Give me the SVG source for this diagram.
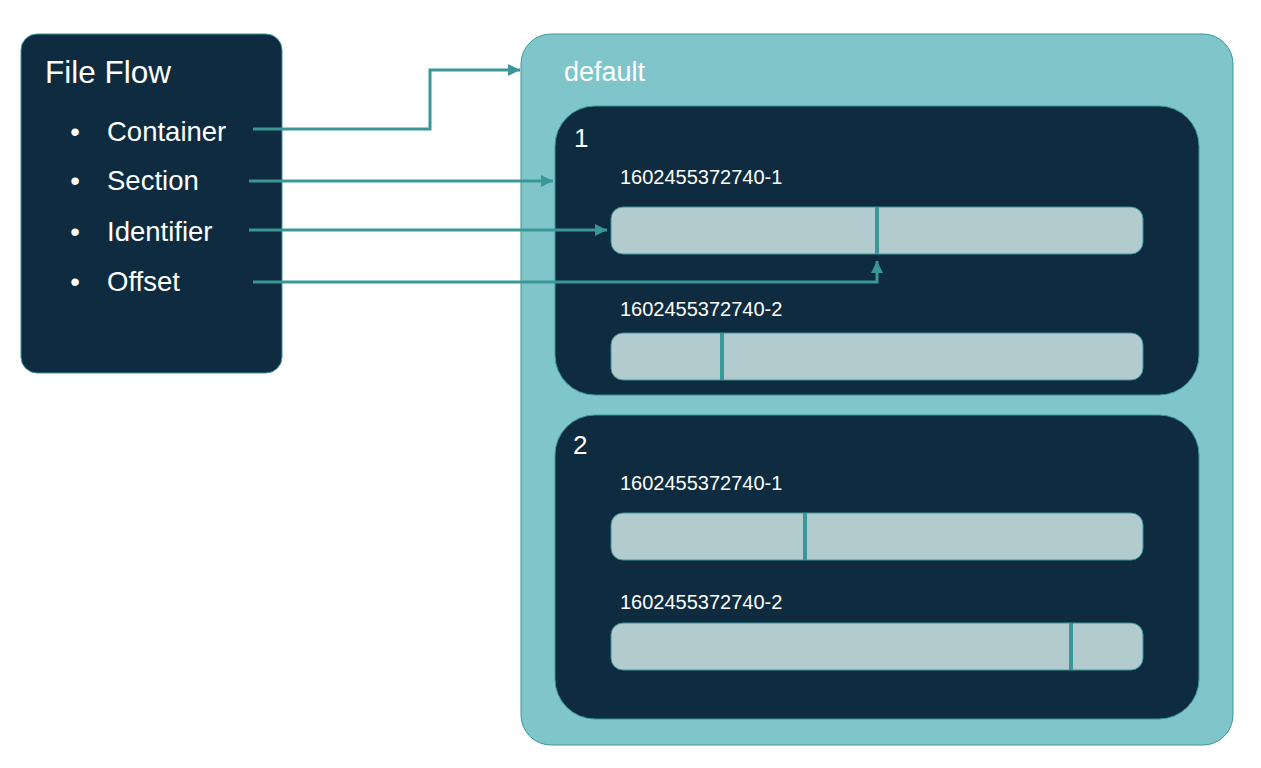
<svg xmlns="http://www.w3.org/2000/svg" width="1261" height="768" viewBox="0 0 1261 768">
<defs>
<marker id="ah" viewBox="0 0 10 10" refX="10" refY="5" markerWidth="4" markerHeight="4" orient="auto" markerUnits="strokeWidth">
<path d="M0,0 L10,5 L0,10 Z" fill="#3a9797"/>
</marker>
<style>
.dark{fill:#0e2b40;stroke:#3a9797;stroke-width:1}
.bar{fill:#b1cbcf;stroke:#3a9797;stroke-width:1}
.mark{stroke:#3a9797;stroke-width:4}
.t{font-family:"Liberation Sans",Arial,sans-serif;fill:#ffffff}
.item{font-size:27.5px}
.conn{fill:none;stroke:#3a9797;stroke-width:3;marker-end:url(#ah)}
</style>
</defs>
<rect width="1261" height="768" fill="#ffffff"/>
<g id="fileflow">
<rect class="dark" x="21" y="34" width="261" height="339" rx="16"/>
<text class="t" x="45" y="83" font-size="31.5">File Flow</text>
<text class="t item" x="75" y="141" text-anchor="middle">•</text><text class="t item" x="107" y="141">Container</text>
<text class="t item" x="75" y="190" text-anchor="middle">•</text><text class="t item" x="107" y="190">Section</text>
<text class="t item" x="75" y="241" text-anchor="middle">•</text><text class="t item" x="107" y="241">Identifier</text>
<text class="t item" x="75" y="291" text-anchor="middle">•</text><text class="t item" x="107" y="291">Offset</text>
</g>
<g id="default">
<rect x="521" y="34" width="712" height="711" rx="30" fill="#80c5ca" stroke="#3a9797" stroke-width="1"/>
<text class="t" x="564" y="81" font-size="27">default</text>
</g>
<g id="section1">
<rect class="dark" x="555" y="106" width="644" height="289" rx="40"/>
<text class="t" x="574" y="147" font-size="26">1</text>
<text class="t" x="620" y="184" font-size="20">1602455372740-1</text>
<rect class="bar" x="611" y="207" width="532" height="47" rx="12"/>
<line class="mark" x1="877" y1="207" x2="877" y2="254"/>
<text class="t" x="620" y="316" font-size="20">1602455372740-2</text>
<rect class="bar" x="611" y="333" width="532" height="47" rx="12"/>
<line class="mark" x1="722" y1="333" x2="722" y2="380"/>
</g>
<g id="section2">
<rect class="dark" x="555" y="415" width="644" height="304" rx="40"/>
<text class="t" x="573" y="454" font-size="26">2</text>
<text class="t" x="620" y="490" font-size="20">1602455372740-1</text>
<rect class="bar" x="611" y="513" width="532" height="47" rx="12"/>
<line class="mark" x1="805" y1="513" x2="805" y2="560"/>
<text class="t" x="620" y="609" font-size="20">1602455372740-2</text>
<rect class="bar" x="611" y="623" width="532" height="47" rx="12"/>
<line class="mark" x1="1071" y1="623" x2="1071" y2="670"/>
</g>
<g id="connectors">
<path class="conn" d="M253,129 H430 V70 H520"/>
<path class="conn" d="M249,181 H553"/>
<path class="conn" d="M249,230 H607"/>
<path class="conn" d="M253,282 H877 V261"/>
</g>
</svg>
